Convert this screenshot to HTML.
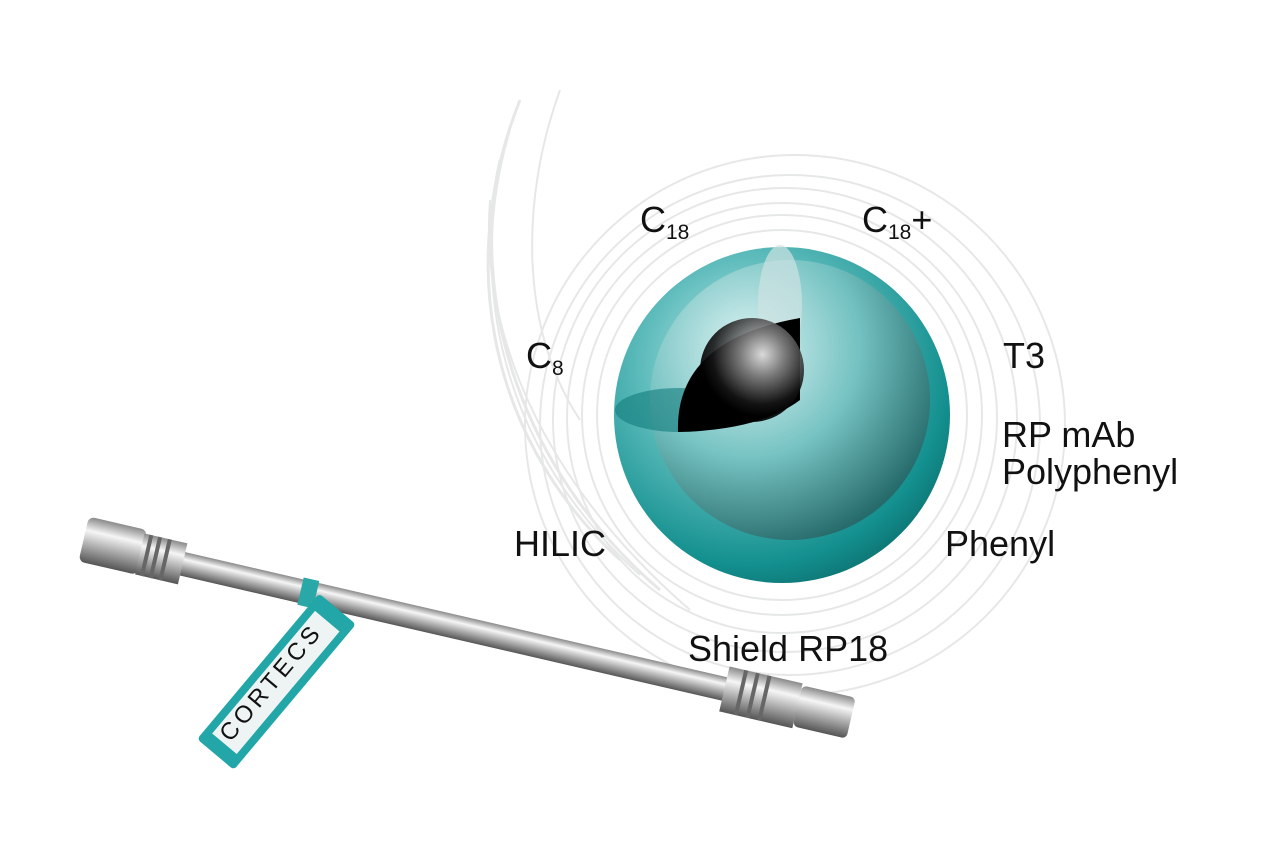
<!DOCTYPE html>
<html><head><style>
html,body{margin:0;padding:0;background:#fff;}
svg{display:block;}
text{font-family:"Liberation Sans",sans-serif;fill:#111;}
</style></head><body>
<svg width="1280" height="853" viewBox="0 0 1280 853" xmlns="http://www.w3.org/2000/svg">
<defs>
<radialGradient id="sph" cx="0.4" cy="0.35" r="0.7">
<stop offset="0" stop-color="#cfeeee"/><stop offset="0.45" stop-color="#5fbcbc"/><stop offset="0.85" stop-color="#13908f"/><stop offset="1" stop-color="#0d7372"/>
</radialGradient>
<radialGradient id="inner" cx="0.35" cy="0.3" r="0.8">
<stop offset="0" stop-color="#e6f6f6"/><stop offset="0.5" stop-color="#7cc4c4"/><stop offset="1" stop-color="#1d4c4c"/>
</radialGradient>
<radialGradient id="core" cx="0.6" cy="0.35" r="0.6">
<stop offset="0" stop-color="#f2f2f2"/><stop offset="0.35" stop-color="#8a8a8a"/><stop offset="0.8" stop-color="#151515"/><stop offset="1" stop-color="#000"/>
</radialGradient>
<linearGradient id="metal" x1="0" y1="0" x2="0" y2="1">
<stop offset="0" stop-color="#8a8a8a"/><stop offset="0.3" stop-color="#f6f6f6"/><stop offset="0.6" stop-color="#b0b0b0"/><stop offset="1" stop-color="#555"/>
</linearGradient>
</defs>
<g fill="none" stroke="#e4e6e6" stroke-width="2" opacity="0.9">
<circle cx="782" cy="415" r="185"/>
<circle cx="782" cy="415" r="200"/>
<circle cx="782" cy="418" r="215"/>
<circle cx="785" cy="420" r="232"/>
<circle cx="790" cy="425" r="250"/>
<circle cx="795" cy="425" r="270"/>
<path d="M520 100 C460 250 480 430 620 560" stroke-width="3"/>
<path d="M500 160 C470 300 520 470 660 590" stroke-width="3"/>
<path d="M510 130 C465 280 500 450 640 575" stroke-width="2"/>
<path d="M560 90 C520 200 520 330 580 420" stroke-width="2"/>
<path d="M490 200 C480 330 540 480 690 610" stroke-width="2"/>
</g>
<circle cx="782" cy="415" r="168" fill="url(#sph)"/>
<circle cx="790" cy="400" r="140" fill="url(#inner)" opacity="0.75"/>
<ellipse cx="780" cy="305" rx="22" ry="60" fill="#cfe3e3" opacity="0.7"/>
<ellipse cx="680" cy="410" rx="65" ry="22" fill="#137c7c" opacity="0.6"/>
<path d="M800 318 L800 400 Q760 430 678 432 Q675 340 800 318Z" fill="#000"/>
<circle cx="752" cy="370" r="52" fill="url(#core)" opacity="0.9"/>
<!-- column -->
<g transform="translate(140,553) rotate(13)">
<rect x="40" y="-11" width="640" height="24" fill="url(#metal)"/>
<rect x="-58" y="-24" width="60" height="46" rx="6" fill="url(#metal)"/>
<rect x="0" y="-20" width="44" height="42" fill="url(#metal)"/>
<rect x="5" y="-20" width="4" height="42" fill="#666"/>
<rect x="14" y="-20" width="4" height="42" fill="#666"/>
<rect x="24" y="-20" width="4" height="42" fill="#666"/>
<rect x="165" y="-13" width="16" height="28" fill="#2aa8a8"/>
<rect x="600" y="-22" width="75" height="46" fill="url(#metal)"/>
<rect x="615" y="-22" width="4" height="46" fill="#666"/>
<rect x="627" y="-22" width="4" height="46" fill="#666"/>
<rect x="639" y="-22" width="4" height="46" fill="#666"/>
<rect x="675" y="-20" width="55" height="42" rx="5" fill="url(#metal)"/>
</g>
<!-- tag -->
<g transform="translate(335,612) rotate(40)">
<rect x="-24" y="-4" width="48" height="190" rx="4" fill="#22a6a8"/>
<rect x="-16" y="12" width="32" height="160" fill="#eef4f4"/>
<text x="0" y="0" font-size="24" transform="translate(4,95) rotate(-90)" text-anchor="middle" letter-spacing="4">CORTECS</text>
</g>
<g font-size="36">
<text x="640" y="232">C<tspan font-size="21" dy="7">18</tspan></text>
<text x="862" y="232">C<tspan font-size="21" dy="7">18</tspan><tspan dy="-7">+</tspan></text>
<text x="526" y="368">C<tspan font-size="21" dy="7">8</tspan></text>
<text x="1003" y="368">T3</text>
<text x="1002" y="447">RP mAb</text>
<text x="1002" y="484">Polyphenyl</text>
<text x="514" y="556">HILIC</text>
<text x="945" y="556">Phenyl</text>
<text x="688" y="661">Shield RP18</text>
</g>
</svg>
</body></html>
